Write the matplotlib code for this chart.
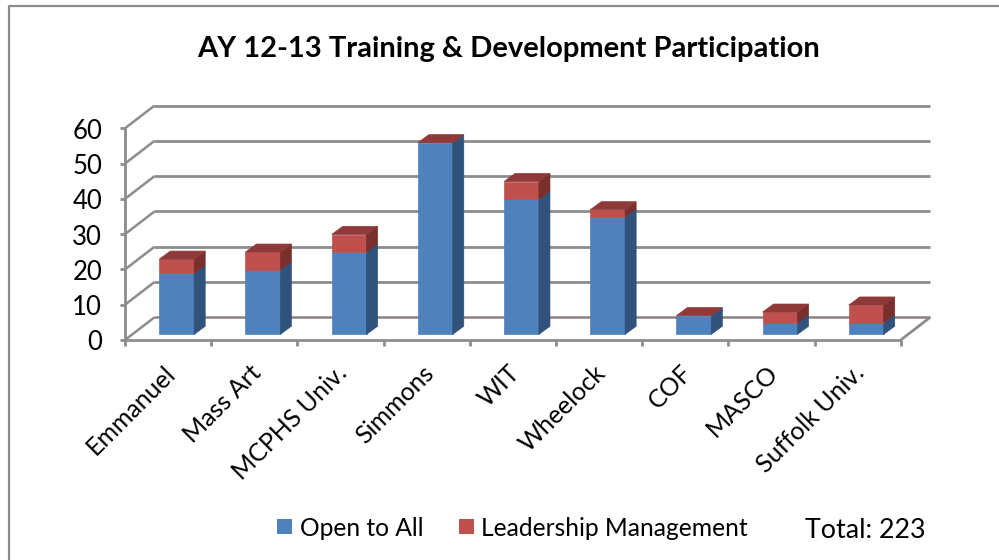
import matplotlib
matplotlib.use('Agg')
import matplotlib.pyplot as plt
import matplotlib.patches as mpatches
import matplotlib.lines as mlines

schools = ['Emmanuel', 'Mass Art', 'MCPHS Univ.', 'Simmons', 'WIT', 'Wheelock', 'COF', 'MASCO', 'Suffolk Univ.']
open_to_all = [17, 18, 23, 54, 38, 33, 5, 3, 3]
leadership = [4, 5, 5, 0, 5, 2, 0, 3, 5]
y_ticks = [0, 10, 20, 30, 40, 50, 60]

W, H = 999, 560
plt.rcParams['font.family'] = ['Lato', 'DejaVu Sans']

BLUE = ['#4f81bd', '#30527b', '#3f6796']
RED = ['#c0504d', '#7a2f2d', '#8f3a38']
GRID = '#8c8c8c'

fig = plt.figure(figsize=[W / 100, H / 100], dpi=100)
# chart frame, only top and left show in the picture
fig.add_artist(mlines.Line2D([8.5 / W, 8.5 / W, 1], [0, 1 - 6 / H, 1 - 6 / H], color=GRID, lw=1.6))

# front plane of the 3d box: 0..9 across, 0..60 up
ax = fig.add_axes([125 / W, 1 - 340 / H, 775.7 / W, 211.7 / H])
ax.set_xlim(0, len(schools))
ax.set_ylim(0, 60)
ax.axis('off')

# depth of the box, in data units
dx, dy = 0.342, 6.43
# bars stand part way back in the box
bar_x, bar_y = 0.1, 1.6
bar_w, bar_dx, bar_dy = 0.405, 0.128, 2.3
top_y = bar_y + 0.3


def line(xs, ys, color=GRID, lw=2.0, z=1):
    ax.add_line(mlines.Line2D(xs, ys, color=color, lw=lw, zorder=z, clip_on=False, solid_capstyle='butt'))


for v in y_ticks:
    line([-0.06, 0], [v, v])
    line([0, dx], [v, v + dy], lw=1.8)
    line([dx, len(schools) + dx], [v + dy, v + dy], lw=2.0 if v else 1.8,
         color=GRID if v else '#8f7f7f')
    ax.annotate(str(v), xy=(0, v), xytext=(-23, -3), textcoords='offset pixels',
                ha='right', va='center', fontsize=18.5)

line([0, 0], [-0.0, 60])
line([0, len(schools)], [0, 0])
line([len(schools), len(schools) + dx], [0, dy])
for i in range(len(schools) + 1):
    line([i, i], [0, -1.6])


def block(x0, y0, y1, cols, top):
    x1 = x0 + bar_w
    ax.add_patch(mpatches.Polygon([(x0, y0), (x1, y0), (x1, y1), (x0, y1)], fc=cols[0],
                                  ec=cols[0], lw=0.5, zorder=3, clip_on=False))
    ax.add_patch(mpatches.Polygon([(x1, y0), (x1 + bar_dx, y0 + bar_dy), (x1 + bar_dx, y1 + bar_dy), (x1, y1)],
                                  fc=cols[1], ec=cols[1], lw=0.5, zorder=3, clip_on=False))
    if top:
        ax.add_patch(mpatches.Polygon([(x0, y1), (x1, y1), (x1 + bar_dx, y1 + bar_dy), (x0 + bar_dx, y1 + bar_dy)],
                                      fc=RED[2], ec=RED[2], lw=0.5, zorder=3, clip_on=False))


for i, (a, b) in enumerate(zip(open_to_all, leadership)):
    x0 = i + 0.5 - bar_w / 2 + bar_x
    block(x0, bar_y, top_y + a, BLUE, b == 0)
    if b:
        block(x0, top_y + a, top_y + a + b, RED, True)
    ax.annotate(schools[i], xy=(i + 0.5, 0), xytext=(-5, -21), textcoords='offset pixels',
                rotation=45, rotation_mode='anchor', ha='right', va='top', fontsize=18)

fig.text(509 / W, 1 - 49 / H, 'AY 12-13 Training & Development Participation', ha='center', va='center',
         fontsize=21, fontweight='bold')

# legend
for px, tx, col, label in [(277, 300, BLUE[0], 'Open to All'), (459, 481, RED[0], 'Leadership Management')]:
    fig.add_artist(mpatches.Rectangle((px / W, 1 - 534 / H), 15 / W, 15 / H, fc=col, ec='none'))
    fig.text(tx / W, 1 - 528 / H, label, ha='left', va='center', fontsize=17.7)
fig.text(805 / W, 1 - 530 / H, 'Total: 223', ha='left', va='center', fontsize=19.3)

fig.savefig('out.png', dpi=100)
